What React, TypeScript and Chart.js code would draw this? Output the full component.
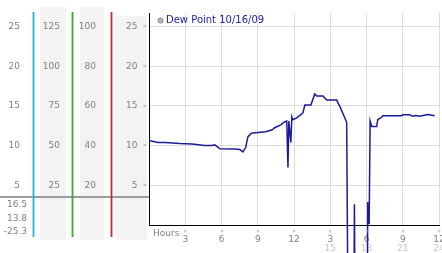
import React, { useEffect, useRef } from 'react';
import { Chart, registerables } from 'chart.js';

Chart.register(...registerables);

// ---- data ----
const seriesLabel = 'Dew Point 10/16/09';

const hours = [
  0, 0.74, 1.3, 2.56, 3.55, 4.63, 5.2, 5.45, 5.87, 7.1, 7.52, 7.77, 8.0, 8.18, 8.43, 8.6,
  9.67, 10.2, 10.4, 10.9, 11.24, 11.4, 11.5, 11.57, 11.74, 11.82, 11.9, 12.23, 12.73, 12.9,
  13.4, 13.72, 13.88, 14.4, 14.7, 15.54, 15.6, 15.8, 16.2, 16.36, 16.53, 16.75, 16.9, 17.0,
  17.1, 18.02, 18.1, 18.15, 18.22, 18.3, 18.43, 18.84, 18.93, 19.26, 19.34, 20.9, 21.0,
  21.57, 21.8, 22.07, 22.4, 23.05, 23.64,
];

const dewPoint = [
  10.66, 10.4, 10.4, 10.25, 10.2, 10.0, 10.0, 10.1, 9.6, 9.56, 9.5, 9.2, 9.75, 11.1, 11.5, 11.6,
  11.75, 12.0, 12.25, 12.6, 13.0, 13.1, 7.25, 13.1, 10.4, 13.6, 13.25, 13.5, 14.1, 15.1,
  15.1, 16.5, 16.25, 16.25, 15.75, 15.75, 15.5, 14.9, 13.5, 12.9, -25.3, -8, -25.3, 2.6,
  -25.3, -25.3, 2.9, 0.2, 0.2, 13.1, 12.4, 12.4, 13.25, 13.6, 13.75, 13.75, 13.9,
  13.9, 13.7, 13.8, 13.7, 13.9, 13.75,
];

const xTickLabels = ['', '3', '6', '9', '12', '3', '6', '9', '12'];
const xTickLabels24 = ['', '', '', '', '', '15', '18', '21', '24'];
const summaryValues = ['16.5', '13.8', '-25.3'];
const hoursTitle = 'Hours';

const FONT = 'DejaVu Sans';
const GREY = '#808080';

export default function App() {
  const ref = useRef<HTMLCanvasElement>(null);

  useEffect(() => {
    document.body.style.margin = '0';
    const canvas = ref.current;
    if (!canvas) return;

    const decor = {
      id: 'decor',
      beforeDraw(chart: any) {
        const ctx = chart.ctx;
        const { yB, yC, yD } = chart.scales;
        ctx.save();
        ctx.fillStyle = '#f3f3f3';
        ctx.fillRect(yB.left + 7, 7, yB.width - 13, 233);
        ctx.fillRect(yC.left + 8, 7, yC.width - 15, 233);
        ctx.fillRect(yD.left + 4, 16, yD.width - 6, 224);
        ctx.restore();
      },
      afterDraw(chart: any) {
        const ctx = chart.ctx;
        const { yA, yB, yC, yD, x } = chart.scales;
        const area = chart.chartArea;
        ctx.save();
        // separator line of the left panel
        ctx.fillStyle = '#9c9c9c';
        ctx.fillRect(0, area.bottom - 29, area.left, 2);
        // coloured column lines
        const cols: [any, string][] = [
          [yA, '#2aaed6'],
          [yB, '#34ab34'],
          [yC, '#c62828'],
        ];
        cols.forEach(([s, c]) => {
          ctx.fillStyle = c;
          ctx.fillRect(Math.round(s.right) - 0.4, 12, 1.8, 225);
        });
        // summary values
        ctx.fillStyle = GREY;
        ctx.font = `9px "${FONT}"`;
        ctx.textAlign = 'right';
        ctx.textBaseline = 'middle';
        summaryValues.forEach((v, i) => {
          ctx.fillText(v, 27, area.bottom - 20 + i * 13.5);
        });
        // tick marks
        ctx.fillStyle = '#a8a8a8';
        ctx.font = `7px "${FONT}"`;
        ctx.textAlign = 'center';
        yD.ticks.forEach((t: any) => {
          if (t.value <= 0) return;
          ctx.fillText('\u00bb', area.left - 4, yD.getPixelForValue(t.value));
        });
        x.ticks.forEach((t: any) => {
          if (t.value <= 0) return;
          ctx.save();
          ctx.translate(x.getPixelForValue(t.value), area.bottom + 6);
          ctx.rotate(Math.PI / 2);
          ctx.fillText('\u00bb', 0, 0);
          ctx.restore();
        });
        // Hours title
        ctx.fillStyle = GREY;
        ctx.font = `9px "${FONT}"`;
        ctx.textAlign = 'left';
        ctx.fillText(hoursTitle, area.left + 4, area.bottom + 8.5);
        // legend
        const ds = chart.data.datasets[0];
        const lx = area.left + 11.5;
        const ly = area.top + 7.5;
        ctx.beginPath();
        ctx.arc(lx, ly, 2.6, 0, Math.PI * 2);
        ctx.fillStyle = '#b4b4b4';
        ctx.fill();
        ctx.lineWidth = 1;
        ctx.strokeStyle = '#8a8a8a';
        ctx.stroke();
        ctx.fillStyle = '#2424a2';
        ctx.font = `10px "${FONT}"`;
        ctx.textBaseline = 'middle';
        ctx.fillText(ds.label, lx + 5.5, ly);
        ctx.restore();
      },
    };

    const leftAxis = (weight: number, max: number, step: number, width: number, pad: number, extra: any = {}) => ({
      type: 'linear',
      position: 'left',
      weight,
      min: 0,
      max,
      grid: { display: false, drawTicks: false },
      border: { display: false },
      ticks: {
        stepSize: step,
        includeBounds: false,
        padding: pad,
        color: GREY,
        font: { family: FONT, size: 9 },
        callback: (v: number) => (v === 0 ? '' : String(v)),
      },
      afterFit: (s: any) => {
        s.width = width;
        s.paddingTop = 0;
        s.paddingBottom = 0;
      },
      ...extra,
    });

    const yMax = 26.7;

    const chart = new Chart(canvas, {
      type: 'line',
      data: {
        datasets: [
          {
            label: seriesLabel,
            data: hours.map((h, i) => ({ x: h, y: dewPoint[i] })),
            borderColor: '#1b1b9a',
            borderWidth: 1.5,
            pointRadius: 0,
            tension: 0,
            fill: false,
            clip: { left: 0, top: 0, right: 0, bottom: 30 } as any,
            xAxisID: 'x',
            yAxisID: 'yD',
          },
        ],
      },
      options: {
        animation: false,
        responsive: false,
        layout: { padding: { left: 0, top: 13, right: 3, bottom: 0 } },
        plugins: {
          legend: { display: false },
          tooltip: { enabled: false },
        },
        scales: {
          yA: leftAxis(4, yMax, 5, 33, 13),
          yB: leftAxis(3, yMax * 5, 25, 39, 12),
          yC: leftAxis(2, yMax * 4, 20, 39, 15),
          yD: leftAxis(1, yMax, 5, 38, 11.5, {
            grid: { display: true, drawTicks: false, color: '#dcdcdc', lineWidth: 1 },
            border: { display: true, color: '#000000', width: 1 },
          }),
          x: {
            type: 'linear',
            position: 'bottom',
            weight: 0,
            min: 0,
            max: 24,
            grid: { display: true, drawTicks: false, color: '#dcdcdc', lineWidth: 1 },
            border: { display: true, color: '#000000', width: 1 },
            ticks: {
              stepSize: 3,
              includeBounds: false,
              autoSkip: false,
              maxRotation: 0,
              padding: 9,
              color: GREY,
              font: { family: FONT, size: 9 },
              callback: (v: number) => xTickLabels[Math.round(v / 3)] ?? '',
            },
            afterFit: (s: any) => {
              s.height = 17;
              s.paddingLeft = 0;
              s.paddingRight = 0;
            },
          },
          x2: {
            type: 'linear',
            position: 'bottom',
            weight: 1,
            min: 0,
            max: 24,
            grid: { display: false, drawTicks: false },
            border: { display: false },
            ticks: {
              stepSize: 3,
              includeBounds: false,
              autoSkip: false,
              maxRotation: 0,
              padding: 1,
              color: '#c8c8c8',
              font: { family: FONT, size: 9 },
              callback: (v: number) => xTickLabels24[Math.round(v / 3)] ?? '',
            },
            afterFit: (s: any) => {
              s.height = 11;
              s.paddingLeft = 0;
              s.paddingRight = 0;
            },
          },
        } as any,
      },
      plugins: [decor],
    });

    return () => chart.destroy();
  }, []);

  return (
    <div style={{ width: 442, height: 253 }}>
      <canvas ref={ref} width={442} height={253} style={{ display: 'block' }} />
    </div>
  );
}
